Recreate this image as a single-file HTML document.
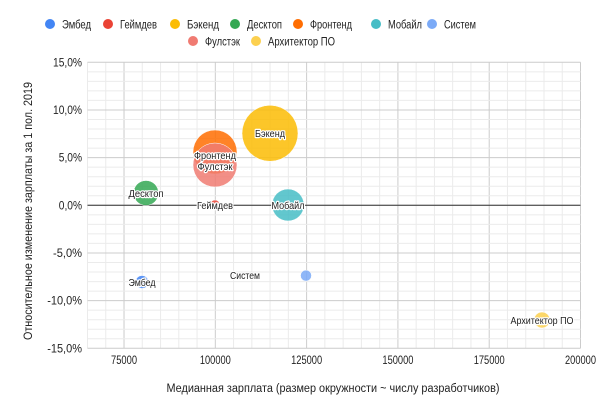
<!DOCTYPE html>
<html><head><meta charset="utf-8"><style>
body{margin:0;background:#fff;}
svg text{font-family:"Liberation Sans",Arial,sans-serif;}
</style></head><body>
<svg width="600" height="413" viewBox="0 0 600 413" xmlns="http://www.w3.org/2000/svg">
<rect width="600" height="413" fill="#fff"/>
<script>
const ns="http://www.w3.org/2000/svg";
const svg=document.querySelector('svg');
const X=v=>87.5+(v-65000)*493/135000;
const Y=p=>205.3-p*9.533;
function el(t,a,txt){const e=document.createElementNS(ns,t);for(const k in a)e.setAttribute(k,a[k]);if(txt!==undefined)e.textContent=txt;svg.appendChild(e);return e;}
for(let v=65000;v<=200000;v+=5000){el('line',{x1:X(v),x2:X(v),y1:62.3,y2:348.3,stroke:(v%25000==0)?'#ccc':'#ebebeb','stroke-width':1});}
for(let p=-15;p<=15;p++){el('line',{x1:87.5,x2:580.5,y1:Y(p),y2:Y(p),stroke:(p%5==0)?'#ccc':'#ebebeb','stroke-width':1});}
el('line',{x1:87.5,x2:580.5,y1:Y(0),y2:Y(0),stroke:'#333','stroke-width':1});
for(let p=-15;p<=15;p+=5){const s=p.toFixed(1).replace('.',',')+'%';el('text',{x:82,y:Y(p)+4,'text-anchor':'end','font-size':11.5,fill:'#222',textLength:s.length*5.8,lengthAdjust:'spacingAndGlyphs'},s);}
for(let v=75000;v<=200000;v+=25000){const s=String(v);el('text',{x:X(v),y:364,'text-anchor':'middle','font-size':11.5,fill:'#222',textLength:s.length==6?31:26,lengthAdjust:'spacingAndGlyphs'},s);}
el('text',{x:333,y:392,'text-anchor':'middle','font-size':11.5,fill:'#222',textLength:333,lengthAdjust:'spacingAndGlyphs'},'Медианная зарплата (размер окружности ~ числу разработчиков)');
el('text',{x:0,y:0,transform:'translate(32,211) rotate(-90)','text-anchor':'middle','font-size':11.5,fill:'#222',textLength:258,lengthAdjust:'spacingAndGlyphs'},'Относительное изменение зарплаты за 1 пол. 2019');
const B=[
['Эмбед','#4285f4',142,282,6.5],
['Геймдев','#ea4335',215,205,5],
['Бэкенд','#fbbc04',270,133.3,28],
['Десктоп','#34a853',146,193,12.5],
['Фронтенд','#ff6d01',215,152,22],
['Мобайл','#46bdc6',288,205,16],
['Систем','#7baaf7',306,275.6,5.5],
['Фулстэк','#f07b72',215,165,22],
['Архитектор ПО','#fcd04f',542,320,8]];
for(const b of B){el('circle',{cx:b[2],cy:b[3],r:b[4],fill:b[1],'fill-opacity':0.85,stroke:'#fff','stroke-width':0.5});}
const L=[['Эмбед',142,286,27],['Геймдев',215,209,36],['Бэкенд',270,137,30],['Десктоп',146,197,35],['Фронтенд',215,159,42],['Мобайл',288,209,33],['Систем',245,279,30],['Фулстэк',215,170,35],['Архитектор ПО',542,324,63]];
for(const l of L){el('text',{x:l[1],y:l[2],'text-anchor':'middle','font-size':10,fill:'#222',stroke:'#fff','stroke-width':2.5,'paint-order':'stroke','stroke-linejoin':'round',textLength:l[3],lengthAdjust:'spacingAndGlyphs'},l[0]);}
const LG=[['Эмбед','#4285f4',50,24,29],['Геймдев','#ea4335',108,24,37],['Бэкенд','#fbbc04',175,24,32],['Десктоп','#34a853',235,24,35],['Фронтенд','#ff6d01',298,24,42],['Мобайл','#46bdc6',376,24,34],['Систем','#7baaf7',432,24,32],['Фулстэк','#f07b72',193,41,35],['Архитектор ПО','#fcd04f',256,41,67]];
for(const g of LG){el('circle',{cx:g[2],cy:g[3],r:5,fill:g[1]});el('text',{x:g[2]+12,y:g[3]+4.5,'font-size':11.5,fill:'#222',textLength:g[4],lengthAdjust:'spacingAndGlyphs'},g[0]);}
</script>
</svg>
</body></html>
